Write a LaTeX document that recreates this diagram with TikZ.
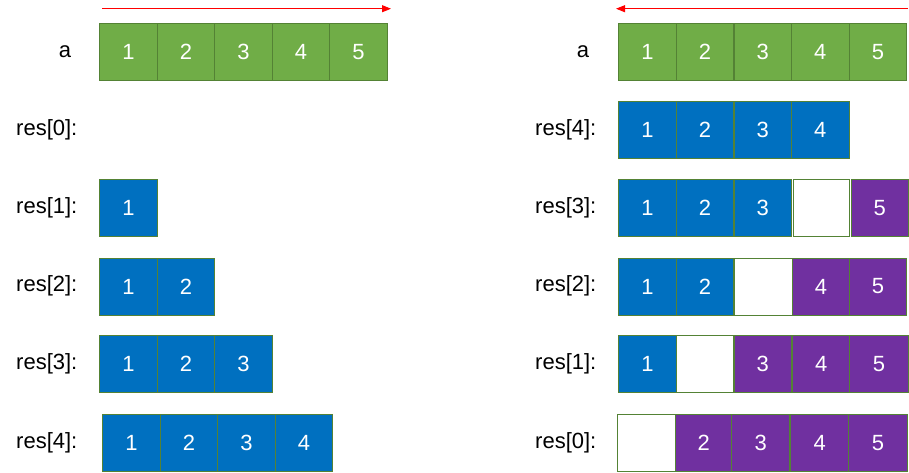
\documentclass[tikz,border=0pt]{standalone}
\usepackage{fontspec}
\setmainfont{Liberation Sans}
\usetikzlibrary{arrows.meta}
\definecolor{gfill}{HTML}{70AD47}
\definecolor{bfill}{HTML}{0070C0}
\definecolor{pfill}{HTML}{7030A0}
\definecolor{edge}{HTML}{548235}
\begin{document}
\begin{tikzpicture}[x=1pt,y=-1pt,
  cell/.style={draw=edge, line width=0.9pt, minimum width=57.5pt, minimum height=57pt,
    inner sep=0pt, anchor=north west, text=white, font=\fontsize{22}{22}\selectfont},
  gcell/.style={cell, fill=gfill},
  bcell/.style={cell, fill=bfill},
  pcell/.style={cell, fill=pfill},
  wcell/.style={cell, fill=white},
  lab/.style={anchor=west, inner sep=0pt, font=\fontsize{22}{22}\selectfont},
  alab/.style={anchor=center, inner sep=0pt, font=\fontsize{22}{22}\selectfont},
  dir/.style={draw=red, line width=0.8pt, -{Triangle[length=9pt,width=7pt]}}]
\useasboundingbox (0,0) rectangle (909,472);

% ---------- left side ----------
\coordinate (la) at (102,8.7);
\coordinate (lb) at (391,8.7);
\draw[dir] (la) -- (lb);

\node[alab] (lbla) at (65,51.3) {a};
\node[gcell] (lA1) at (99.3,22.7) {1};
\node[gcell] (lA2) at (156.8,22.7) {2};
\node[gcell] (lA3) at (214.3,22.7) {3};
\node[gcell] (lA4) at (271.8,22.7) {4};
\node[gcell] (lA5) at (329.3,22.7) {5};

\node[lab] (lr0) at (16,130) {res[0]:};

\node[lab] (lr1) at (16,207.8) {res[1]:};
\node[bcell] (lB1) at (99.3,179.3) {1};

\node[lab] (lr2) at (16,286) {res[2]:};
\node[bcell] (lC1) at (99.3,257.5) {1};
\node[bcell] (lC2) at (156.8,257.5) {2};

\node[lab] (lr3) at (16,363.7) {res[3]:};
\node[bcell] (lD1) at (99.3,335.2) {1};
\node[bcell] (lD2) at (156.8,335.2) {2};
\node[bcell] (lD3) at (214.3,335.2) {3};

\node[lab] (lr4) at (16,442.8) {res[4]:};
\node[bcell] (lE1) at (102.3,414.3) {1};
\node[bcell] (lE2) at (159.8,414.3) {2};
\node[bcell] (lE3) at (217.3,414.3) {3};
\node[bcell] (lE4) at (274.8,414.3) {4};

% ---------- right side ----------
\coordinate (ra) at (908,8.7);
\coordinate (rb) at (616,8.7);
\draw[dir] (ra) -- (rb);

\node[alab] (rbla) at (583,51.3) {a};
\node[gcell] (rA1) at (618.3,22.7) {1};
\node[gcell] (rA2) at (675.9,22.7) {2};
\node[gcell] (rA3) at (733.5,22.7) {3};
\node[gcell] (rA4) at (791.1,22.7) {4};
\node[gcell] (rA5) at (848.7,22.7) {5};

\node[lab] (rr4) at (535,129.8) {res[4]:};
\node[bcell] (rB1) at (618.3,101.3) {1};
\node[bcell] (rB2) at (675.9,101.3) {2};
\node[bcell] (rB3) at (733.5,101.3) {3};
\node[bcell] (rB4) at (791.1,101.3) {4};

\node[lab] (rr3) at (535,207.8) {res[3]:};
\node[bcell] (rC1) at (618.3,179.3) {1};
\node[bcell] (rC2) at (675.9,179.3) {2};
\node[bcell] (rC3) at (733.5,179.3) {3};
\node[wcell, minimum width=56.3pt] (rC4) at (792.7,179.3) {};
\node[pcell, minimum width=57.3pt] (rC5) at (850.7,179.3) {5};

\node[lab] (rr2) at (535,286) {res[2]:};
\node[bcell] (rD1) at (618.3,257.5) {1};
\node[bcell] (rD2) at (675.9,257.5) {2};
\node[wcell, minimum width=58.8pt] (rD3) at (733.5,257.5) {};
\node[pcell, minimum width=56.6pt] (rD4) at (792.3,257.5) {4};
\node[pcell] (rD5) at (848.9,257.5) {5};

\node[lab] (rr1) at (535,363.7) {res[1]:};
\node[bcell] (rE1) at (618.3,335.2) {1};
\node[wcell] (rE2) at (675.9,335.2) {};
\node[pcell] (rE3) at (733.5,335.2) {3};
\node[pcell, minimum width=57pt] (rE4) at (792.3,335.2) {4};
\node[pcell, minimum width=58.4pt] (rE5) at (849.3,335.2) {5};

\node[lab] (rr0) at (535,442.8) {res[0]:};
\node[wcell, minimum width=58pt] (rF1) at (617.3,414.3) {};
\node[pcell, minimum width=56pt] (rF2) at (675.3,414.3) {2};
\node[pcell, minimum width=58pt] (rF3) at (731.3,414.3) {3};
\node[pcell, minimum width=58pt] (rF4) at (790.3,414.3) {4};
\node[pcell, minimum width=58.4pt] (rF5) at (848.3,414.3) {5};
\end{tikzpicture}
\end{document}
